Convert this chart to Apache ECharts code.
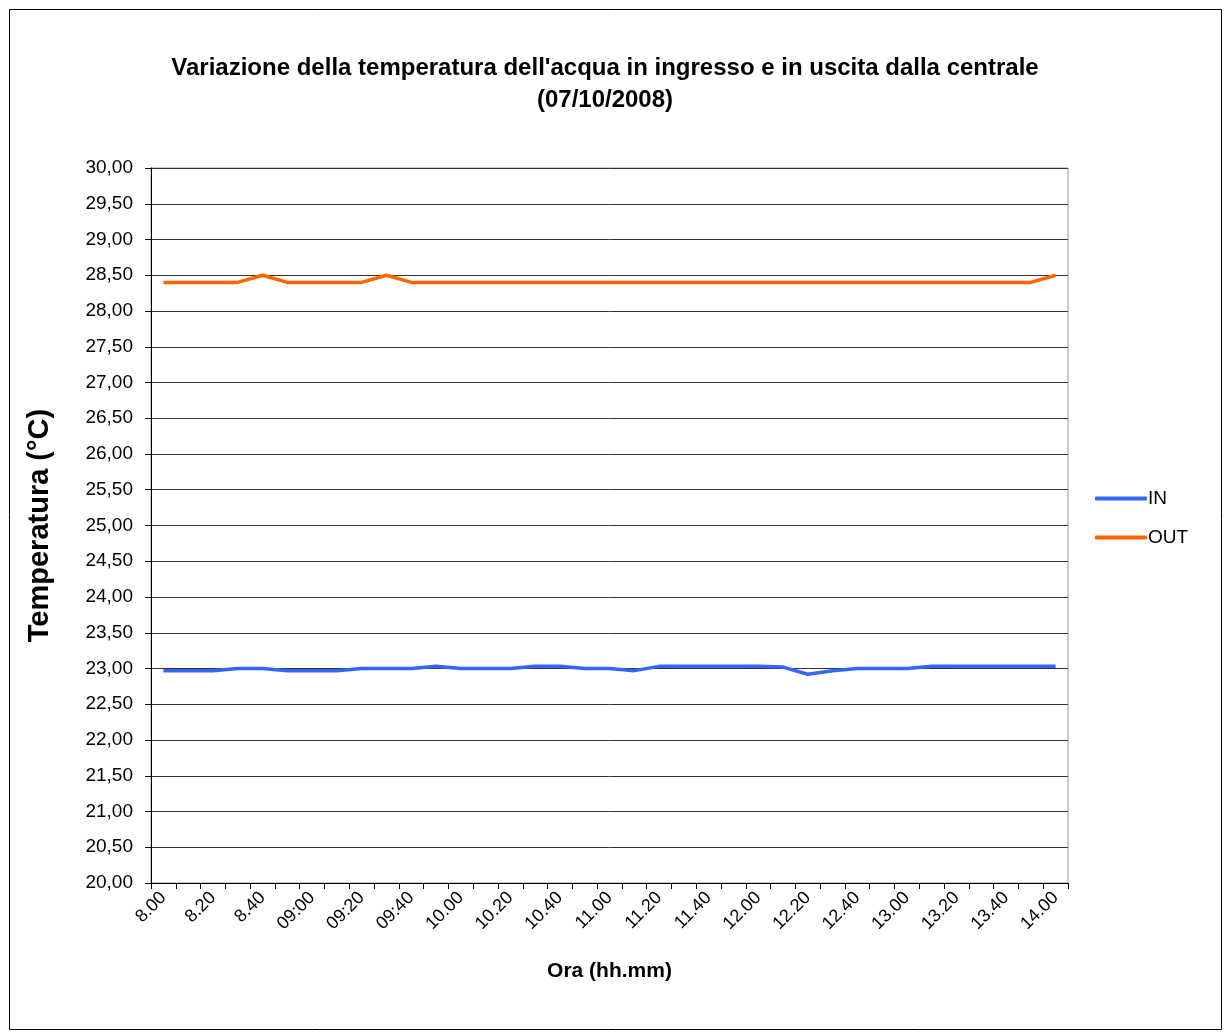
<!DOCTYPE html>
<html>
<head>
<meta charset="utf-8">
<script src="https://cdn.jsdelivr.net/npm/echarts@6/dist/echarts.min.js"></script>
<style>
html,body{margin:0;padding:0;background:#fff;}
#chart{width:1224px;height:1034px;}
</style>
</head>
<body>
<div id="chart"></div>
<script>
var categories = ["8.00","8.10","8.20","8.30","8.40","8.50","09:00","09:10","09:20","09:30","09:40","09:50",
  "10.00","10.10","10.20","10.30","10.40","10.50","11.00","11.10","11.20","11.30","11.40","11.50",
  "12.00","12.10","12.20","12.30","12.40","12.50","13.00","13.10","13.20","13.30","13.40","13.50","14.00"];
var seriesIN = [22.97,22.97,22.97,23.00,23.00,22.97,22.97,22.97,23.00,23.00,23.00,23.03,
  23.00,23.00,23.00,23.03,23.03,23.00,23.00,22.97,23.03,23.03,23.03,23.03,
  23.03,23.02,22.92,22.97,23.00,23.00,23.00,23.03,23.03,23.03,23.03,23.03,23.03];
var seriesOUT = [28.40,28.40,28.40,28.40,28.50,28.40,28.40,28.40,28.40,28.50,28.40,28.40,
  28.40,28.40,28.40,28.40,28.40,28.40,28.40,28.40,28.40,28.40,28.40,28.40,
  28.40,28.40,28.40,28.40,28.40,28.40,28.40,28.40,28.40,28.40,28.40,28.40,28.50];
var titleLines = ["Variazione della temperatura dell'acqua in ingresso e in uscita dalla centrale", "(07/10/2008)"];

var FONT = "Liberation Sans, Arial, sans-serif";
var chart = echarts.init(document.getElementById('chart'));
chart.setOption({
  animation: false,
  backgroundColor: '#fff',
  textStyle: {fontFamily: FONT},
  graphic: [
    {type: 'rect', shape: {x: 9.5, y: 9.5, width: 1212, height: 1020}, style: {fill: 'none', stroke: '#000', lineWidth: 1}, z: -1},
    {type: 'rect', shape: {x: 151, y: 168, width: 917, height: 715}, style: {fill: 'none', stroke: '#999', lineWidth: 1}, z: -1}
  ],
  title: {
    text: titleLines.join('\n'),
    left: 600, top: 47, textAlign: 'center',
    textStyle: {fontFamily: FONT, fontSize: 24, fontWeight: 'bold', color: '#000', lineHeight: 32}
  },
  legend: {
    orient: 'vertical', left: 1090, top: 484, itemWidth: 52, itemHeight: 4, itemGap: 20,
    icon: 'roundRect',
    textStyle: {fontFamily: FONT, fontSize: 19, color: '#000', padding: [0,0,0,-4]},
    data: ['IN', 'OUT']
  },
  grid: {left: 151, right: 156, top: 168, bottom: 151, containLabel: false},
  xAxis: {
    type: 'category', data: categories, boundaryGap: true,
    name: 'Ora (hh.mm)', nameLocation: 'middle', nameGap: 78,
    nameTextStyle: {fontFamily: FONT, fontSize: 21, fontWeight: 'bold', color: '#000'},
    axisLine: {lineStyle: {color: '#000', width: 1}},
    axisTick: {show: true, interval: 0, length: 6, lineStyle: {color: '#000'}},
    axisLabel: {interval: 1, rotate: 45, fontFamily: FONT, fontSize: 18, color: '#000', margin: 12},
    splitLine: {show: false}
  },
  yAxis: {
    type: 'value', min: 20, max: 30, interval: 0.5,
    name: 'Temperatura (°C)', nameLocation: 'middle', nameRotate: 90, nameGap: 97,
    nameTextStyle: {fontFamily: FONT, fontSize: 29, fontWeight: 'bold', color: '#000'},
    axisLine: {show: true, lineStyle: {color: '#000', width: 1}},
    axisTick: {show: true, length: 6, lineStyle: {color: '#000'}},
    axisLabel: {fontFamily: FONT, fontSize: 19, color: '#000', margin: 18,
      formatter: function (v) { return v.toFixed(2).replace('.', ','); }},
    splitLine: {show: true, lineStyle: {color: '#333', width: 1}}
  },
  series: [
    {name: 'IN', type: 'line', data: seriesIN, showSymbol: false, symbol: 'none',
     lineStyle: {color: '#3366FF', width: 3.5}, itemStyle: {color: '#3366FF'}},
    {name: 'OUT', type: 'line', data: seriesOUT, showSymbol: false, symbol: 'none',
     lineStyle: {color: '#FF6600', width: 3.5}, itemStyle: {color: '#FF6600'}}
  ]
});
</script>
</body>
</html>
